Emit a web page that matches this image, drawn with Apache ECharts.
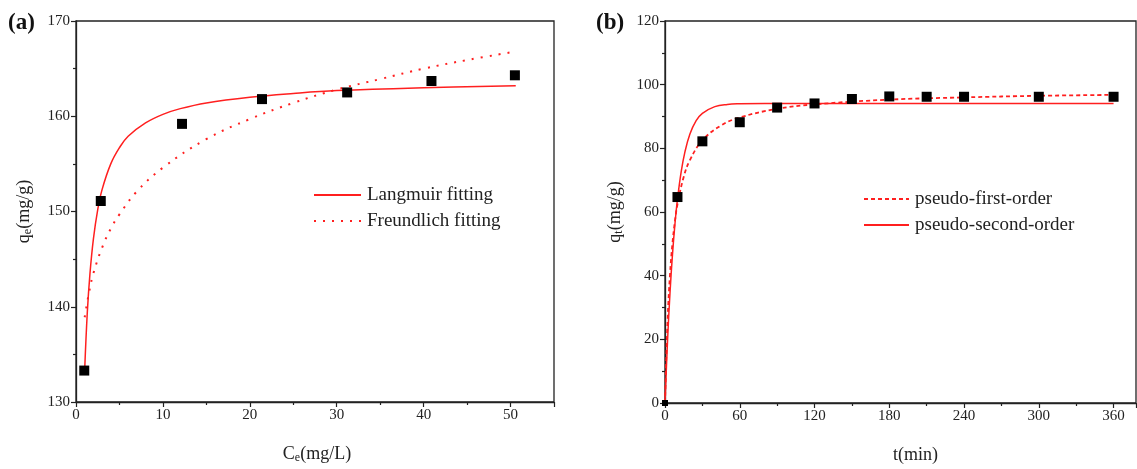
<!DOCTYPE html>
<html>
<head>
<meta charset="utf-8">
<script src="https://cdn.jsdelivr.net/npm/echarts@6/dist/echarts.min.js"></script>
<style>
html,body{margin:0;padding:0;background:#fff;}
#c{width:1137px;height:469px;}
</style>
</head>
<body>
<div id="c"></div>
<script>
// ---- Panel (a): adsorption isotherm ----
const isoCe = [0.95, 2.85, 12.2, 21.4, 31.2, 40.9, 50.5];
const isoQe = [133.3, 151.1, 159.2, 161.8, 162.5, 163.7, 164.3];
const langCe = [1.0, 1.3, 1.6, 2.0, 2.5, 3.0, 4.0, 5.0, 6.0, 8.0, 10, 12, 15, 20, 25, 30, 40, 50.6];
const langQe = [133.4, 139.4, 143.4, 147.1, 150.2, 152.3, 155.0, 156.7, 157.9, 159.3, 160.2, 160.8, 161.4, 162.0, 162.4, 162.7, 163.0, 163.2];
const freuCe = [1.0, 1.5, 2, 3, 4, 5, 7, 10, 15, 20, 25, 30, 35, 40, 45, 50.6];
const freuQe = [138.9, 141.5, 143.5, 146.2, 148.2, 149.7, 152.1, 154.6, 157.6, 159.7, 161.4, 162.8, 163.9, 165.0, 165.9, 166.8];

// ---- Panel (b): adsorption kinetics ----
const kinT = [0, 10, 30, 60, 90, 120, 150, 180, 210, 240, 300, 360];
const kinQt = [0, 64.7, 82.2, 88.2, 92.8, 94.1, 95.5, 96.3, 96.2, 96.2, 96.2, 96.2];
const pfoT = [0, 2, 4, 6, 8, 10, 15, 20, 30, 45, 60, 90, 120, 180, 240, 300, 360];
const pfoQt = [0, 25.3, 40.3, 50.2, 57.2, 62.4, 71.0, 76.3, 82.5, 87.2, 89.7, 92.4, 93.8, 95.3, 96.0, 96.5, 96.8];
const psoT = [0, 2, 4, 6, 8, 10, 13, 16, 20, 25, 30, 40, 50, 60, 80, 120, 240, 360];
const psoQt = [0, 19.2, 34.5, 46.6, 56.3, 64.0, 72.7, 78.9, 84.5, 88.7, 91.0, 93.1, 93.8, 94.0, 94.1, 94.1, 94.1, 94.1];

const zip = (a, b) => a.map((v, i) => [v, b[i]]);

const FONT = 'Liberation Serif';
const RED = '#ff1f1f';
const AX = '#222';

function valAxis(extra, hideMax, namePad) {
  return Object.assign({
    type: 'value',
    axisLine: { show: true, lineStyle: { color: AX, width: 1.3 } },
    axisTick: { show: true, inside: false, length: 5, lineStyle: { color: AX, width: 1.2 } },
    minorTick: { show: true, splitNumber: 2, length: 3, lineStyle: { color: AX, width: 1.2 } },
    splitLine: { show: false },
    axisLabel: { fontFamily: FONT, fontSize: 15, color: '#222', margin: 6, showMaxLabel: !hideMax },
    nameTextStyle: {
      fontFamily: FONT, fontSize: 18, color: '#222', padding: namePad || 0,
      rich: { sub: { fontFamily: FONT, fontSize: 12, color: '#222', verticalAlign: 'bottom', padding: [7, 0, 0, 0] } }
    },
    nameLocation: 'middle'
  }, extra);
}

const chart = echarts.init(document.getElementById('c'), null, { renderer: 'canvas' });

const legendCommon = {
  orient: 'vertical', padding: 0, itemHeight: 12, itemGap: 6,
  itemStyle: { opacity: 0 },
  textStyle: { fontFamily: FONT, fontSize: 19, lineHeight: 20, color: '#222', padding: [0, 0, 0, 1] },
  selectedMode: false
};

const option = {
  backgroundColor: '#fff',
  animation: false,
  title: [
    { text: '(a)', left: 8, top: 12, padding: 0, textStyle: { fontFamily: FONT, fontSize: 23, fontWeight: 'bold', color: '#111' } },
    { text: '(b)', left: 596, top: 12, padding: 0, textStyle: { fontFamily: FONT, fontSize: 23, fontWeight: 'bold', color: '#111' } }
  ],
  grid: [
    { left: 76, top: 21, width: 478, height: 385, show: true, borderColor: AX, borderWidth: 1.3, backgroundColor: 'transparent' },
    { left: 665, top: 21, width: 471, height: 384, show: true, borderColor: AX, borderWidth: 1.3, backgroundColor: 'transparent' }
  ],
  xAxis: [
    valAxis({ gridIndex: 0, min: 0, max: 55, interval: 10, name: 'C{sub|e}(mg/L)', nameGap: 43 }, true, [0, 0, 0, 4]),
    valAxis({ gridIndex: 1, min: 0, max: 378, interval: 60, name: 't(min)', nameGap: 43 }, true, [0, 0, 0, 30])
  ],
  yAxis: [
    valAxis({ gridIndex: 0, min: 130, max: 170, interval: 10, name: 'q{sub|e}(mg/g)', nameGap: 42 }),
    valAxis({ gridIndex: 1, min: 0, max: 120, interval: 20, name: 'q{sub|t}(mg/g)', nameGap: 40 })
  ],
  legend: [
    Object.assign({ data: ['Langmuir fitting', 'Freundlich fitting'], left: 313, top: 185, itemWidth: 47 }, legendCommon),
    Object.assign({ data: ['pseudo-first-order', 'pseudo-second-order'], left: 863, top: 189, itemWidth: 45 }, legendCommon)
  ],
  series: [
    { name: 'Langmuir fitting', type: 'line', xAxisIndex: 0, yAxisIndex: 0, data: zip(langCe, langQe),
      smooth: 0.4, showSymbol: false, symbol: 'none', lineStyle: { color: RED, width: 1.5, type: 'solid' }, itemStyle: { color: RED }, z: 3 },
    { name: 'Freundlich fitting', type: 'line', xAxisIndex: 0, yAxisIndex: 0, data: zip(freuCe, freuQe),
      smooth: 0.4, showSymbol: false, symbol: 'none', lineStyle: { color: RED, width: 2, type: [2, 7] }, itemStyle: { color: RED }, z: 3 },
    { name: 'isotherm data', type: 'scatter', xAxisIndex: 0, yAxisIndex: 0, data: zip(isoCe, isoQe),
      symbol: 'rect', symbolSize: 10, itemStyle: { color: '#000', opacity: 1 }, z: 5 },
    { name: 'pseudo-first-order', type: 'line', xAxisIndex: 1, yAxisIndex: 1, data: zip(pfoT, pfoQt),
      smooth: 0.4, showSymbol: false, symbol: 'none', lineStyle: { color: RED, width: 1.8, type: [4, 3] }, itemStyle: { color: RED }, z: 3 },
    { name: 'pseudo-second-order', type: 'line', xAxisIndex: 1, yAxisIndex: 1, data: zip(psoT, psoQt),
      smooth: 0.4, showSymbol: false, symbol: 'none', lineStyle: { color: RED, width: 1.5, type: 'solid' }, itemStyle: { color: RED }, z: 3 },
    { name: 'kinetic data', type: 'scatter', xAxisIndex: 1, yAxisIndex: 1, data: zip(kinT, kinQt),
      symbol: 'rect', symbolSize: (v) => (v[0] === 0 ? 6 : 10), itemStyle: { color: '#000', opacity: 1 }, z: 5 }
  ]
};
chart.setOption(option);
</script>
</body>
</html>
